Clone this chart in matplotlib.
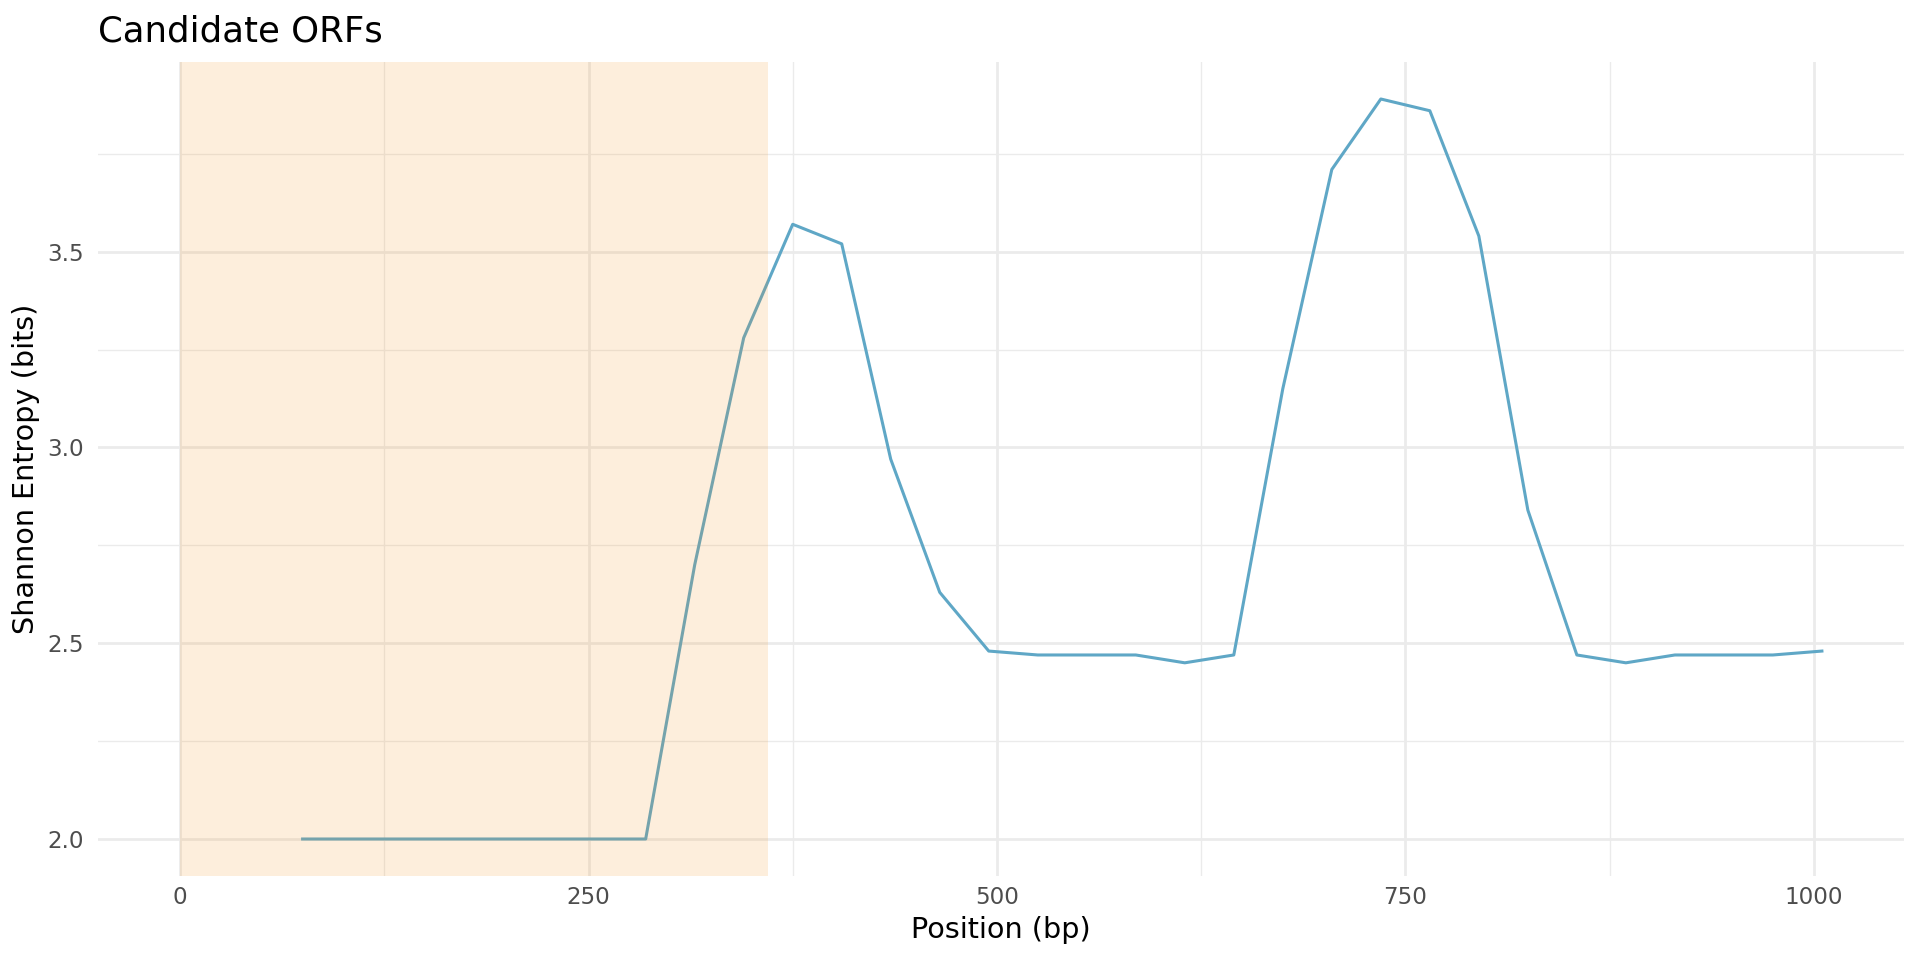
import matplotlib
matplotlib.use("Agg")
import matplotlib.pyplot as plt
from matplotlib.ticker import MultipleLocator

# sliding-window positions (bp) and entropy values
positions = [75, 105, 135, 165, 195, 225, 255, 285, 315, 345, 375, 405,
             435, 465, 495, 525, 555, 585, 615, 645, 675, 705, 735, 765,
             795, 825, 855, 885, 915, 945, 975, 1005]
entropy = [2.00, 2.00, 2.00, 2.00, 2.00, 2.00, 2.00, 2.00, 2.70, 3.28, 3.57, 3.52,
           2.97, 2.63, 2.48, 2.47, 2.47, 2.47, 2.45, 2.47, 3.15, 3.71, 3.89, 3.86,
           3.54, 2.84, 2.47, 2.45, 2.47, 2.47, 2.47, 2.48]

# candidate ORF region
orf_start = [0]
orf_end = [360]

plt.rcParams['font.family'] = ['DejaVu Sans']

fig = plt.figure(figsize=(9.6, 4.8), dpi=200)
ax = fig.add_axes([98 / 1920, 84 / 960, 1806 / 1920, 814 / 960])

ax.plot(positions, entropy, color='#5FA7C6', linewidth=1.1, zorder=2)
for s, e in zip(orf_start, orf_end):
    # shading drawn over the line, like the original
    ax.axvspan(s, e, color='#F5901A', alpha=0.15, linewidth=0, zorder=3)

# ggplot-like 5% expansion
xmin, xmax = min(orf_start + positions), max(orf_end + positions)
ymin, ymax = min(entropy), max(entropy)
xpad = (xmax - xmin) * 0.05
ypad = (ymax - ymin) * 0.05
ax.set_xlim(xmin - xpad, xmax + xpad)
ax.set_ylim(ymin - ypad, ymax + ypad)

ax.xaxis.set_major_locator(MultipleLocator(250))
ax.xaxis.set_minor_locator(MultipleLocator(125))
ax.yaxis.set_major_locator(MultipleLocator(0.5))
ax.yaxis.set_minor_locator(MultipleLocator(0.25))
ax.yaxis.set_major_formatter(plt.FormatStrFormatter('%.1f'))

ax.set_axisbelow(True)
ax.grid(which='major', color='#EBEBEB', linewidth=1.0)
ax.grid(which='minor', color='#EBEBEB', linewidth=0.5)
for sp in ax.spines.values():
    sp.set_visible(False)
ax.tick_params(which='both', length=0)
ax.tick_params(axis='y', labelsize=8.3, labelcolor='#4D4D4D', pad=5)
ax.tick_params(axis='x', labelsize=8.3, labelcolor='#4D4D4D', pad=3.5)

fig.text(98 / 1920, 1 - 41.7 / 960, 'Candidate ORFs', fontsize=12.8,
         ha='left', va='baseline')
fig.text(1001 / 1920, 1 - 930 / 960, 'Position (bp)', fontsize=10.3,
         ha='center', va='center')
fig.text(26 / 1920, (960 - 469) / 960, 'Shannon Entropy (bits)', fontsize=10.3,
         rotation=90, ha='center', va='center')

fig.savefig('out.png', dpi=200)
